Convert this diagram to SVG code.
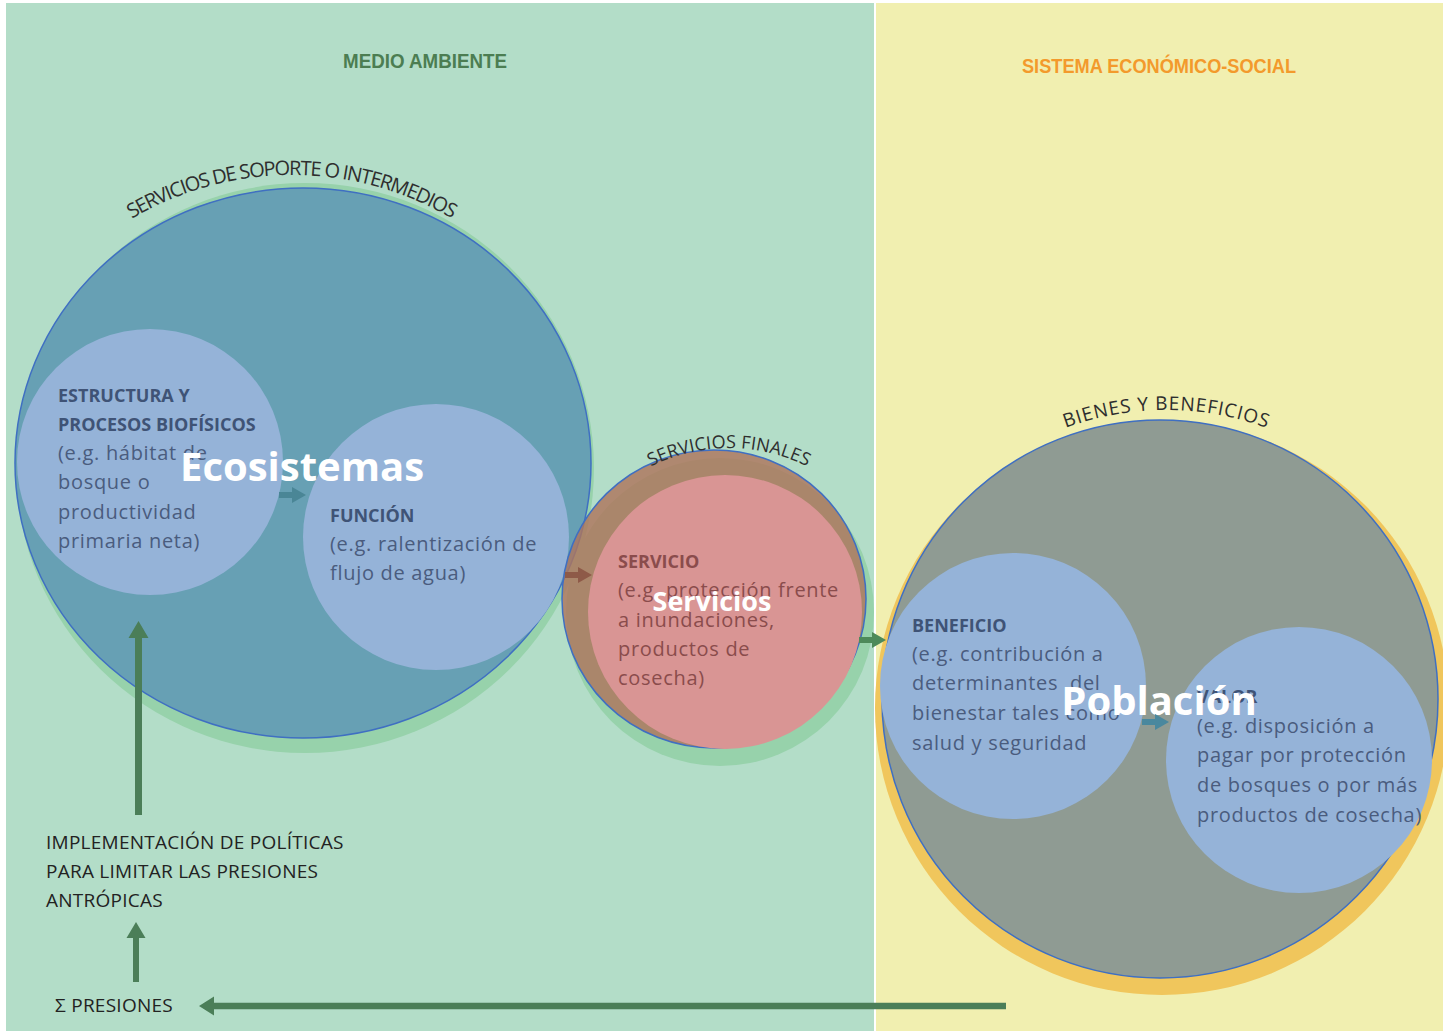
<svg xmlns="http://www.w3.org/2000/svg" width="1443" height="1031" viewBox="0 0 1443 1031">
  <style>
    .body { font-family: "Open Sans", "Liberation Sans", sans-serif; font-size: 20px; letter-spacing: 0.7px; }
    .head { font-family: "Open Sans", "Liberation Sans", sans-serif; font-size: 18px; font-weight: bold; }
    .blue { fill: #4a5c7e; }
    .blueh { fill: #3f5376; }
    .red { fill: #8a4c4c; }
    .arc { font-family: "Open Sans", "Liberation Sans", sans-serif; fill: #2e2e2e; }
    .big { font-family: "Open Sans", "Liberation Sans", sans-serif; font-weight: bold; fill: #ffffff; }
    .note { font-family: "Open Sans", "Liberation Sans", sans-serif; font-size: 19px; fill: #222222; letter-spacing: 0.25px; }
    .inner { fill: #95b3d8; }
    .title { font-family: "Liberation Sans", sans-serif; font-weight: bold; font-size: 21px; }
  </style>
  <defs>
    <path id="arrowR" d="M0 -3 H13 V-8 L27 0 L13 8 V3 H0 Z"/>
    <path id="arcSoporte" d="M50.7 287.5 A315 315 0 0 1 533.3 287.5"/>
    <path id="arcFinales" d="M595.7 510.2 A174 174 0 0 1 862.3 510.2"/>
    <path id="arcBienes" d="M943.8 513.6 A290 290 0 0 1 1388.2 513.6"/>
  </defs>

  <!-- background panels -->
  <rect x="0" y="0" width="1443" height="1031" fill="#ffffff"/>
  <g id="panel-medio-ambiente">
    <rect x="6" y="3" width="868" height="1028" fill="#b3ddc8"/>
    <text class="title" x="425" y="68" text-anchor="middle" fill="#4c7d52" textLength="164" lengthAdjust="spacingAndGlyphs">MEDIO AMBIENTE</text>
  </g>
  <g id="panel-sistema-economico">
    <rect x="876" y="3" width="567" height="1028" fill="#f1efb0"/>
    <text class="title" x="1159" y="73" text-anchor="middle" fill="#f39a2c" textLength="274" lengthAdjust="spacingAndGlyphs">SISTEMA ECONÓMICO-SOCIAL</text>
  </g>

  <!-- Ecosistemas -->
  <g id="ecosistemas">
    <ellipse cx="305" cy="468" rx="289" ry="285" fill="#97d2ab"/>
    <ellipse cx="303" cy="463" rx="288" ry="275" fill="#67a0b4" stroke="#3f6fc2" stroke-width="1.5"/>
    <text class="arc" font-size="20"><textPath href="#arcSoporte" startOffset="50%" text-anchor="middle" textLength="336" lengthAdjust="spacing">SERVICIOS DE SOPORTE O INTERMEDIOS</textPath></text>
  </g>
  <g id="estructura">
    <circle cx="150" cy="462" r="133" class="inner"/>
    <text class="head blueh" x="58" y="402">ESTRUCTURA Y</text>
    <text class="head blueh" x="58" y="431">PROCESOS BIOFÍSICOS</text>
    <text class="body blue" x="58" y="460">(e.g. hábitat de</text>
    <text class="body blue" x="58" y="489">bosque o</text>
    <text class="body blue" x="58" y="519">productividad</text>
    <text class="body blue" x="58" y="548">primaria neta)</text>
  </g>
  <g id="funcion">
    <circle cx="436" cy="537" r="133" class="inner"/>
    <text class="head blueh" x="330" y="522">FUNCIÓN</text>
    <text class="body blue" x="330" y="551">(e.g. ralentización de</text>
    <text class="body blue" x="330" y="580">flujo de agua)</text>
  </g>

  <!-- Servicios -->
  <g id="servicios">
    <circle cx="720" cy="612" r="154" fill="#97d2ab"/>
    <ellipse cx="714" cy="599" rx="152" ry="149" fill="#af755d" fill-opacity="0.82" stroke="#3f6fc2" stroke-width="1.5"/>
    <circle cx="725" cy="612" r="137" fill="#d99594"/>
    <text class="arc" font-size="18"><textPath href="#arcFinales" startOffset="50%" text-anchor="middle" textLength="162" lengthAdjust="spacing">SERVICIOS FINALES</textPath></text>
    <text class="head red" x="618" y="568">SERVICIO</text>
    <text class="body red" x="618" y="597">(e.g. protección frente</text>
    <text class="body red" x="618" y="627">a inundaciones,</text>
    <text class="body red" x="618" y="656">productos de</text>
    <text class="body red" x="618" y="685">cosecha)</text>
  </g>

  <!-- Poblacion -->
  <g id="poblacion">
    <circle cx="1162" cy="708" r="287" fill="#f0c65c"/>
    <ellipse cx="1160" cy="699" rx="278" ry="279" fill="#8f9b93" stroke="#3f6fc2" stroke-width="1.5"/>
    <text class="arc" font-size="19"><textPath href="#arcBienes" startOffset="50%" text-anchor="middle" textLength="205" lengthAdjust="spacing">BIENES  Y BENEFICIOS</textPath></text>
  </g>
  <g id="beneficio">
    <circle cx="1013" cy="686" r="133" class="inner"/>
    <text class="head blueh" x="912" y="632">BENEFICIO</text>
    <text class="body blue" x="912" y="661">(e.g. contribución a</text>
    <text class="body blue" x="912" y="690" xml:space="preserve">determinantes  del</text>
    <text class="body blue" x="912" y="720">bienestar tales como</text>
    <text class="body blue" x="912" y="750">salud y seguridad</text>
  </g>
  <g id="valor">
    <circle cx="1299" cy="760" r="133" class="inner"/>
    <text class="head blueh" x="1197" y="703">VALOR</text>
    <text class="body blue" x="1197" y="733">(e.g. disposición a</text>
    <text class="body blue" x="1197" y="762">pagar por protección</text>
    <text class="body blue" x="1197" y="792">de bosques o por más</text>
    <text class="body blue" x="1197" y="822">productos de cosecha)</text>
  </g>

  <!-- large labels -->
  <g id="labels">
    <text class="big" x="302" y="481" font-size="40" text-anchor="middle">Ecosistemas</text>
    <text class="big" x="712" y="611" font-size="27" text-anchor="middle">Servicios</text>
    <text class="big" x="1159" y="715" font-size="40" text-anchor="middle">Población</text>
  </g>

  <!-- policy and pressures -->
  <g id="politicas">
    <text class="note" x="46" y="849">IMPLEMENTACIÓN DE POLÍTICAS</text>
    <text class="note" x="46" y="878">PARA LIMITAR LAS PRESIONES</text>
    <text class="note" x="46" y="907">ANTRÓPICAS</text>
  </g>
  <g id="presiones">
    <text class="note" x="55" y="1012">Σ PRESIONES</text>
  </g>

  <!-- connectors -->
  <g id="connectors">
    <use href="#arrowR" transform="translate(279,495)" fill="#4a8696"/>
    <use href="#arrowR" transform="translate(565,575)" fill="#8e5a48"/>
    <use href="#arrowR" transform="translate(859,640)" fill="#4d8a5a"/>
    <use href="#arrowR" transform="translate(1142,722)" fill="#4a889e"/>
    <!-- policy arrow up to Ecosistemas -->
    <path d="M135 815 V638 H128.5 L138.5 621 L148.5 638 H142 V815 Z" fill="#4b7e58"/>
    <!-- pressures to policy -->
    <path d="M133 982 V938 H126.5 L136 922 L145.5 938 H139 V982 Z" fill="#4b7e58"/>
    <!-- feedback from Poblacion to pressures -->
    <path d="M1006 1002.7 H214 V996.5 L199 1006 L214 1015.5 V1009.3 H1006 Z" fill="#4b7e58"/>
  </g>
</svg>
